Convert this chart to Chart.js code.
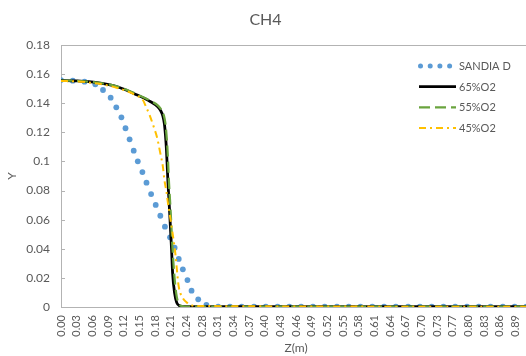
<!DOCTYPE html>
<html>
<head>
<meta charset="utf-8">
<script src="https://cdn.jsdelivr.net/npm/chart.js@4"></script>
<style>
  html, body { margin: 0; padding: 0; background: #fff; overflow: hidden; }
  #wrap { width: 642px; height: 356px; }
</style>
</head>
<body>
<div id="wrap"><canvas id="chart" width="642" height="356"></canvas></div>
<script>
// CH4 a lo largo de Z: datos experimentales (SANDIA D) vs. tres casos de O2.
// Valores leídos a ojo del gráfico original.

const X_TICKS = ['0.00', '0.03', '0.06', '0.09', '0.12', '0.15', '0.18', '0.21', '0.24', '0.28',
  '0.31', '0.34', '0.37', '0.40', '0.43', '0.46', '0.49', '0.52', '0.55', '0.58',
  '0.61', '0.64', '0.67', '0.70', '0.73', '0.77', '0.80', '0.83', '0.86', '0.89', '0.92'];
const X_STEP = 0.0306; // separación entre categorías del eje original
const Y_TICKS = ['0', '0.02', '0.04', '0.06', '0.08', '0.1', '0.12', '0.14', '0.16', '0.18'];
const Y_LABELS = ['0', '0.02', '0.04', '0.06', '0.08', '0.1', '0.12', '0.14', '0.16', '0.18'];

// SANDIA D (puntos)
const SANDIA_X = [0.000, 0.023, 0.046, 0.067, 0.082, 0.097, 0.108, 0.118, 0.126, 0.134,
  0.142, 0.150, 0.159, 0.167, 0.176, 0.185, 0.194, 0.203, 0.213, 0.222,
  0.230, 0.238, 0.247, 0.255, 0.268, 0.284, 0.307, 0.330, 0.353, 0.377,
  0.400, 0.423, 0.446, 0.469, 0.492, 0.515, 0.539, 0.562, 0.585, 0.608,
  0.631, 0.654, 0.678, 0.701, 0.724, 0.747, 0.770, 0.793, 0.816, 0.839,
  0.863, 0.886, 0.909];
const SANDIA_Y = [0.1559, 0.1555, 0.1548, 0.1530, 0.1491, 0.1438, 0.1372, 0.1303, 0.1228, 0.1152,
  0.1074, 0.1001, 0.0927, 0.0854, 0.0776, 0.0701, 0.0627, 0.0552, 0.0479, 0.0407,
  0.0330, 0.0259, 0.0185, 0.0112, 0.0053, 0.0014, 0.0003, 0.0002, 0.0002, 0.0002,
  0.0002, 0.0002, 0.0002, 0.0002, 0.0002, 0.0002, 0.0002, 0.0002, 0.0002, 0.0002,
  0.0002, 0.0002, 0.0002, 0.0002, 0.0002, 0.0002, 0.0002, 0.0002, 0.0002, 0.0002,
  0.0002, 0.0002, 0.0002];

// 65%O2
const O2_65_X = [0, 0.032, 0.071, 0.110, 0.149, 0.175, 0.189, 0.194, 0.199, 0.202,
  0.204, 0.206, 0.209, 0.212, 0.216, 0.218, 0.222, 0.226, 0.233, 0.245, 0.918];
const O2_65_Y = [0.1556, 0.1553, 0.1541, 0.1513, 0.1456, 0.1410, 0.1376, 0.1353, 0.1312, 0.1257,
  0.1182, 0.1079, 0.0850, 0.0666, 0.0392, 0.0232, 0.0094, 0.0030, 0.0007, 0.0002, 0.0002];

// 55%O2
const O2_55_X = [0, 0.032, 0.071, 0.110, 0.149, 0.175, 0.190, 0.196, 0.201, 0.204,
  0.206, 0.208, 0.211, 0.214, 0.218, 0.221, 0.225, 0.229, 0.236, 0.248, 0.918];
const O2_55_Y = [0.1556, 0.1553, 0.1542, 0.1515, 0.1460, 0.1416, 0.1382, 0.1355, 0.1315, 0.1260,
  0.1185, 0.1080, 0.0850, 0.0666, 0.0392, 0.0232, 0.0094, 0.0030, 0.0007, 0.0002, 0.0002];

// 45%O2
const O2_45_X = [0, 0.032, 0.071, 0.110, 0.149, 0.160, 0.166, 0.173, 0.181, 0.188,
  0.194, 0.199, 0.202, 0.206, 0.209, 0.212, 0.218, 0.224, 0.227, 0.230,
  0.237, 0.248, 0.261, 0.918];
const O2_45_Y = [0.1553, 0.1549, 0.1535, 0.1505, 0.1450, 0.1422, 0.1376, 0.1319, 0.1239, 0.1159,
  0.1056, 0.0964, 0.0872, 0.0792, 0.0712, 0.0644, 0.0506, 0.0346, 0.0232, 0.0139,
  0.0067, 0.0025, 0.0007, 0.0002];

const GRIS = '#595959';
const EJE = '#B3B3B3';

function puntos(xs, ys) {
  return xs.map((x, i) => ({ x: x, y: ys[i] }));
}

// ── Marco del área de trazado + marcas hacia adentro en Y ─────────────────────
const marco = {
  id: 'marco',
  afterDraw(chart) {
    const { ctx, chartArea: a, scales } = chart;
    ctx.save();
    ctx.strokeStyle = EJE;
    ctx.lineWidth = 1;
    ctx.beginPath();
    ctx.moveTo(a.left, a.top + 0.5);
    ctx.lineTo(a.right, a.top + 0.5);
    scales.y.ticks.forEach(t => {
      const py = Math.round(scales.y.getPixelForValue(t.value)) + 0.5;
      ctx.moveTo(a.left, py);
      ctx.lineTo(a.left + 4, py);
    });
    ctx.stroke();
    ctx.restore();
  }
};

// ── Leyenda dentro del gráfico, como en Excel ────────────────────────────────
const leyenda = {
  id: 'leyenda',
  afterDatasetsDraw(chart, args, opts) {
    const { ctx } = chart;
    ctx.save();
    ctx.font = opts.font;
    ctx.fillStyle = GRIS;
    ctx.textBaseline = 'middle';
    chart.data.datasets.forEach((ds, i) => {
      const y = opts.top + i * opts.rowGap;
      const x0 = opts.left, x1 = opts.left + opts.sample;
      if (ds.showLine === false) {
        ctx.fillStyle = ds.backgroundColor;
        for (let k = 0; k < 4; k++) {
          ctx.beginPath();
          ctx.arc(x0 + 1.5 + k * 9.7, y, 2.5, 0, Math.PI * 2);
          ctx.fill();
        }
      } else {
        ctx.strokeStyle = ds.borderColor;
        ctx.lineWidth = ds.borderWidth;
        ctx.setLineDash(ds.borderDash || []);
        ctx.beginPath();
        ctx.moveTo(x0, y);
        ctx.lineTo(x1, y);
        ctx.stroke();
        ctx.setLineDash([]);
      }
      ctx.fillStyle = GRIS;
      ctx.fillText(ds.label, x1 + 3, y + 0.5);
    });
    ctx.restore();
  }
};

const ctx = document.getElementById('chart').getContext('2d');
new Chart(ctx, {
  type: 'line',
  data: {
    datasets: [
      { label: 'SANDIA D', data: puntos(SANDIA_X, SANDIA_Y), showLine: false,
        pointRadius: 2.9, pointBackgroundColor: '#5B9BD5', backgroundColor: '#5B9BD5',
        pointBorderWidth: 0, order: 4 },
      { label: '65%O2', data: puntos(O2_65_X, O2_65_Y), borderColor: '#000000',
        borderWidth: 2.8, pointRadius: 0, cubicInterpolationMode: 'monotone', order: 3 },
      { label: '55%O2', data: puntos(O2_55_X, O2_55_Y), borderColor: '#6AA43E',
        borderWidth: 2.25, borderDash: [11, 5], pointRadius: 0, cubicInterpolationMode: 'monotone', order: 2 },
      { label: '45%O2', data: puntos(O2_45_X, O2_45_Y), borderColor: '#FFC000',
        borderWidth: 2, borderDash: [7, 4, 2, 4], pointRadius: 0, cubicInterpolationMode: 'monotone', order: 1 },
    ],
  },
  options: {
    responsive: false,
    animation: false,
    layout: { padding: { left: 0, right: 111, top: 0, bottom: 0 } },
    plugins: {
      legend: { display: false },
      tooltip: { enabled: false },
      title: {
        display: true, text: 'CH4', color: GRIS,
        font: { family: 'Lato', size: 16, weight: 'normal' },
        padding: { top: 10, bottom: 15.8 },
      },
      leyenda: { left: 419, top: 66, rowGap: 20.7, sample: 37, font: '11px Lato' },
    },
    scales: {
      x: {
        type: 'linear', min: 0, max: 0.918,
        grid: { display: false, drawTicks: false },
        border: { display: true, color: EJE, width: 1 },
        afterBuildTicks: s => { s.ticks = X_TICKS.map((t, i) => ({ value: i * X_STEP })); },
        afterFit: s => { s.height = 49; },
        ticks: {
          autoSkip: false, minRotation: 90, maxRotation: 90, padding: 8,
          color: GRIS, font: { family: 'Lato', size: 11 },
          callback: (v, i) => X_TICKS[i],
        },
        title: { display: true, text: 'Z(m)', color: GRIS, font: { family: 'Lato', size: 12 },
          padding: { top: 0, bottom: 1 } },
      },
      y: {
        min: 0, max: 0.18,
        grid: { display: false, drawTicks: false },
        border: { display: true, color: EJE, width: 1 },
        afterBuildTicks: s => { s.ticks = Y_TICKS.map(t => ({ value: parseFloat(t) })); },
        afterFit: s => { s.width = 61; },
        ticks: {
          padding: 11, color: GRIS, font: { family: 'Lato', size: 12 },
          callback: (v, i) => Y_LABELS[i],
        },
        title: { display: true, text: 'Y', color: GRIS, font: { family: 'Lato', size: 12 },
          padding: { top: 5, bottom: 0 } },
      },
    },
  },
  plugins: [marco, leyenda],
});
</script>
</body>
</html>
